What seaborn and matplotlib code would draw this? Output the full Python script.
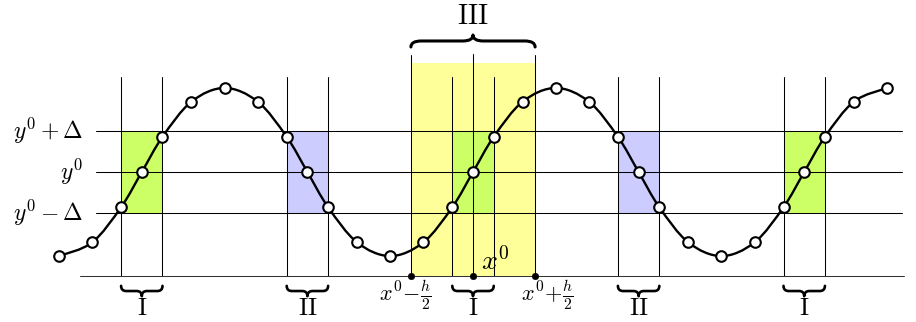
import numpy as np
import pandas as pd
import seaborn as sns
import matplotlib
matplotlib.use("Agg")
import matplotlib.pyplot as plt
from matplotlib.path import Path
from matplotlib.patches import PathPatch, Rectangle

# ---- data -------------------------------------------------------------
point_x = [0, 0.8, 1.5, 2, 2.5, 3.2, 4, 4.8, 5.5, 6, 6.5, 7.2, 8, 8.8, 9.5, 10,
           10.5, 11.2, 12, 12.8, 13.5, 14, 14.5, 15.2, 16, 16.8, 17.5, 18, 18.5,
           19.2, 20]
point_y = [-2.03, -1.7, -0.85, 0, 0.85, 1.7, 2.03, 1.7, 0.85, 0, -0.85, -1.7,
           -2.03, -1.7, -0.85, 0, 0.85, 1.7, 2.03, 1.7, 0.85, 0, -0.85, -1.7,
           -2.03, -1.7, -0.85, 0, 0.85, 1.7, 2.03]

y0 = 0.0
delta = 1.0
level_labels = [r"$y^0+\Delta$", r"$y^0$", r"$y^0-\Delta$"]

region_left = [1.5, 5.5, 9.5, 13.5, 17.5]
region_right = [2.5, 6.5, 10.5, 14.5, 18.5]
region_kind = ["I", "II", "I", "II", "I"]

x0 = 10.0
h = 3.0

axis_y = -2.5

colors = {"I": "#ccff66", "II": "#ccccff", "III": "#ffff99"}

# ---- figure -----------------------------------------------------------
sns.set_style("white")
plt.rcParams["mathtext.fontset"] = "cm"
plt.rcParams["font.family"] = ["DejaVu Serif"]
plt.rcParams["text.color"] = "black"

fig = plt.figure(figsize=(9.16, 3.22), dpi=100)
ax = fig.add_axes([0, 0, 1, 1])

XLIM = (-1.425, 20.7)
YLIM = (-3.623, 4.155)

line_kw = dict(color="black", lw=0.75, zorder=2)

# window III
ax.add_patch(Rectangle((x0 - h / 2, axis_y), h, 2.63 - axis_y,
                       facecolor=colors["III"], edgecolor="none", zorder=0))

# shaded regions
for l, r, k in zip(region_left, region_right, region_kind):
    ax.add_patch(Rectangle((l, y0 - delta), r - l, 2 * delta,
                           facecolor=colors[k], edgecolor="none", zorder=1))

# horizontal levels
for lv, lab in zip([y0 + delta, y0, y0 - delta], level_labels):
    ax.plot([0.9, 20.36], [lv, lv], **line_kw)
    ax.text(0.58, lv, lab, ha="right", va="center", fontsize=17)

# vertical lines of the regions
for l, r in zip(region_left, region_right):
    for xv in (l, r):
        ax.plot([xv, xv], [axis_y, 2.3], **line_kw)

# window boundaries and centre
for xv in (x0 - h / 2, x0 + h / 2):
    ax.plot([xv, xv], [axis_y, 2.83], **line_kw)
ax.plot([x0, x0], [axis_y, 2.85], **line_kw)

# x axis with arrow head
ax.plot([0.5, 20.4], [axis_y, axis_y], color="#333333", lw=0.75, zorder=2)
ax.annotate("", xy=(20.72, axis_y), xytext=(20.2, axis_y),
            arrowprops=dict(arrowstyle="-|>,head_length=0.8,head_width=0.35",
                            color="black", lw=0.75, mutation_scale=20,
                            shrinkA=0, shrinkB=0))

# smooth curve through the samples (Catmull-Rom as cubic Beziers)
P = np.column_stack([point_x, point_y])
ext = np.vstack([P[0], P, P[-1]])
verts = [tuple(P[0])]
codes = [Path.MOVETO]
for i in range(1, len(ext) - 2):
    p0, p1, p2, p3 = ext[i - 1], ext[i], ext[i + 1], ext[i + 2]
    c1 = p1 + (p2 - p0) / 6
    c2 = p2 - (p3 - p1) / 6
    verts += [tuple(c1), tuple(c2), tuple(p2)]
    codes += [Path.CURVE4] * 3
ax.add_patch(PathPatch(Path(verts, codes), facecolor="none",
                       edgecolor="black", lw=1.7, zorder=3))

df = pd.DataFrame({"x": point_x, "y": point_y})
sns.scatterplot(data=df, x="x", y="y", ax=ax, s=58, color="white",
                edgecolor="black", linewidth=1.5, zorder=4, legend=False)

# points on the axis
sns.scatterplot(x=[x0 - h / 2, x0, x0 + h / 2], y=[axis_y] * 3, ax=ax, s=22,
                color="black", edgecolor="black", zorder=5, legend=False)


def brace(xa, xb, yb, amp, lw=1.7):
    """Curly brace between xa and xb; ends at yb, tip at yb + amp."""
    xm = (xa + xb) / 2
    r = min(0.25, (xb - xa) / 8)
    ym = yb + amp / 2
    v = [(xa, yb), (xa, ym), (xa + r, ym), (xa + r, ym),
         (xm - r, ym), (xm, ym), (xm, yb + amp),
         (xm, ym), (xm + r, ym),
         (xb - r, ym), (xb, ym), (xb, yb)]
    c = [Path.MOVETO, Path.CURVE3, Path.CURVE3, Path.LINETO,
         Path.LINETO, Path.CURVE3, Path.CURVE3,
         Path.CURVE3, Path.CURVE3,
         Path.LINETO, Path.CURVE3, Path.CURVE3]
    ax.add_patch(PathPatch(Path(v, c), facecolor="none", edgecolor="black",
                           lw=lw, capstyle="round", joinstyle="round",
                           zorder=5))


# braces below the axis
for l, r, k in zip(region_left, region_right, region_kind):
    brace(l, r, -2.75, -0.25, lw=1.9)
    ax.text((l + r) / 2, -3.3, r"$\mathrm{%s}$" % k, ha="center",
            va="center", fontsize=18)

# brace above the window
brace(x0 - h / 2, x0 + h / 2, 3.02, 0.29, lw=2.2)
ax.text(x0, 3.75, r"$\mathrm{III}$", ha="center", va="center", fontsize=20)

# axis annotations
ax.text(x0 + 0.53, -2.17, r"$x^0$", ha="center", va="center", fontsize=20)
ax.text(x0 - h / 2 - 0.14, -2.97, r"$x^0\!-\!\frac{h}{2}$", ha="center",
        va="center", fontsize=16)
ax.text(x0 + h / 2 + 0.3, -2.97, r"$x^0\!+\!\frac{h}{2}$", ha="center",
        va="center", fontsize=16)

ax.set_xlim(*XLIM)
ax.set_ylim(*YLIM)
ax.set_axis_off()

fig.savefig("out.png", dpi=100)
